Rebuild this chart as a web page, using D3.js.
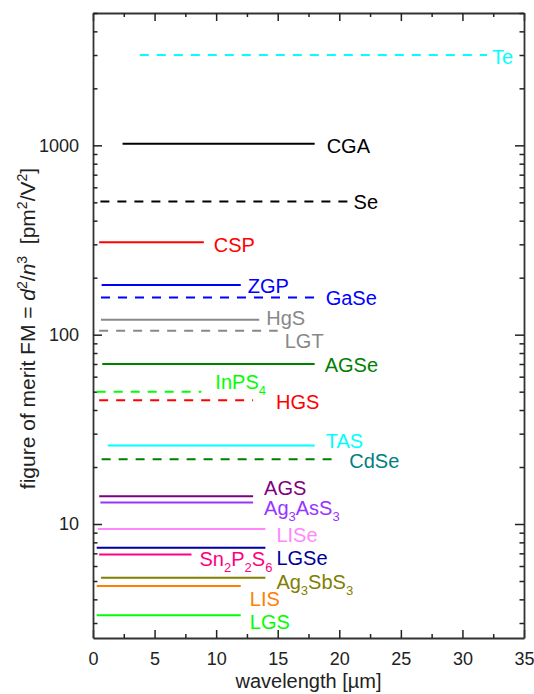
<!DOCTYPE html>
<html>
<head>
<meta charset="utf-8">
<script src="https://cdn.jsdelivr.net/npm/d3@7"></script>
<style>
body { margin: 0; background: #fff; }
text { font-family: Arial, "Liberation Sans", sans-serif; }
</style>
</head>
<body>
<svg id="chart" width="534" height="694"></svg>
<script>
/* Figure of merit of NLO crystals vs transparency range */
const materials = ['Te', 'CGA', 'Se', 'CSP', 'ZGP', 'GaSe', 'HgS', 'LGT', 'AGSe', 'InPS4', 'HGS',
    'TAS', 'CdSe', 'AGS', 'Ag3AsS3', 'LISe', 'LGSe', 'Sn2P2S6', 'Ag3SbS3', 'LIS', 'LGS']
const fmValues = [3000, 1020, 505, 308, 183, 157, 120, 105, 70, 50, 45,
    26, 22, 14, 13, 9.4, 7.5, 6.9, 5.2, 4.7, 3.3]
const lambdaStart = [3.8, 2.4, 0.6, 0.5, 0.7, 0.65, 0.65, 0.5, 0.75, 0.3, 0.5,
    1.2, 0.7, 0.5, 0.6, 0.4, 0.3, 0.5, 0.65, 0.3, 0.3]
const lambdaEnd = [32, 18, 21, 9, 12, 18, 13.5, 15, 18, 8.8, 13,
    18, 20, 13, 13, 14, 14, 8, 14, 12, 12]
const xTicks = d3.range(0, 35.01, 2.5)
const xTickLabels = [0, 5, 10, 15, 20, 25, 30, 35]
const yTickLabels = [10, 100, 1000]

// styling per material
const lineColors = ['#00ffff', '#000000', '#000000', '#ff0000', '#0000ff', '#0000ff', '#888888', '#888888',
    '#008000', '#00ff00', '#ff0000', '#00ffff', '#008000', '#800080', '#9933ff', '#ff88ff', '#000099',
    '#ff0080', '#808000', '#ff8000', '#00ff00']
const labelColors = lineColors.map((c, i) => materials[i] === 'CdSe' ? '#008080' : c)
const dashed = ['Te', 'Se', 'GaSe', 'LGT', 'InPS4', 'HGS', 'CdSe']
const labelDx = [5, 12, 2, 10, 7, 11, 7, 7, 10, 14, 23, 11, 10, 11, 11, 11, 11, 8, 11, 9, 9]
const labelDy = [2, 2, 0, 3, 1, 0, -2, 10, 1, -10, 2, -4, 2, -8, 6, 6, 10, 4, 4, 13, 7]

const margin = { top: 13, right: 10, bottom: 56, left: 93 }
const width = 534 - margin.left - margin.right
const height = 694 - margin.top - margin.bottom

const x = d3.scaleLinear()
    .domain([0, 35])
    .range([0, width])

const y = d3.scaleLog()
    .domain([2.5, 5000])
    .range([height, 0])

const yTicks = [1, 10, 100, 1000]
    .flatMap(dec => d3.range(1, 10).map(k => k * dec))
    .filter(v => v >= 2.5 && v <= 5000)

const isMajorX = d => xTickLabels.includes(d)
const isMajorY = d => yTickLabels.includes(d)

const svg = d3.select('#chart')
    .append('g')
    .attr('transform', `translate(${margin.left},${margin.top})`)

// axes, ticks pointing inward on all four sides
const styleAxis = (g) => {
    g.select('.domain').attr('stroke', '#333').attr('stroke-width', 1.8)
    g.selectAll('.tick line').attr('stroke', '#222').attr('stroke-width', 1.5)
    g.selectAll('.tick text').attr('fill', '#222').style('font-size', '18px')
    g.selectAll('.tick text').filter(function () { return this.textContent === '' }).remove()
}

svg.append('g')
    .attr('transform', `translate(0,${height})`)
    .call(d3.axisBottom(x).tickValues(xTicks).tickSizeOuter(0).tickPadding(8)
        .tickFormat(d => isMajorX(d) ? d : ''))
    .call(g => g.selectAll('.tick line').attr('y2', d => isMajorX(d) ? -8 : -4))
    .call(styleAxis)

svg.append('g')
    .call(d3.axisTop(x).tickValues(xTicks).tickSizeOuter(0).tickFormat(''))
    .call(g => g.selectAll('.tick line').attr('y2', d => isMajorX(d) ? 8 : 4))
    .call(styleAxis)

svg.append('g')
    .call(d3.axisLeft(y).tickValues(yTicks).tickSizeOuter(0).tickPadding(8)
        .tickFormat(d => isMajorY(d) ? d : ''))
    .call(g => g.selectAll('.tick line').attr('x2', d => isMajorY(d) ? 9 : 4.5))
    .call(styleAxis)

svg.append('g')
    .attr('transform', `translate(${width},0)`)
    .call(d3.axisRight(y).tickValues(yTicks).tickSizeOuter(0).tickFormat(''))
    .call(g => g.selectAll('.tick line').attr('x2', d => isMajorY(d) ? -9 : -4.5))
    .call(styleAxis)

const rows = materials.map((m, i) => ({
    name: m, fm: fmValues[i], start: lambdaStart[i], end: lambdaEnd[i],
    color: lineColors[i], labelColor: labelColors[i], dx: labelDx[i], dy: labelDy[i]
}))

svg.selectAll('.seg')
    .data(rows)
    .join('line')
    .attr('class', 'seg')
    .attr('x1', d => x(d.start))
    .attr('x2', d => x(d.end))
    .attr('y1', d => y(d.fm))
    .attr('y2', d => y(d.fm))
    .attr('stroke', d => d.color)
    .attr('stroke-width', 2)
    .attr('stroke-dasharray', d => dashed.includes(d.name) ? '9,8' : null)

// labels, digits become subscripts
const labels = svg.selectAll('.lbl')
    .data(rows)
    .join('text')
    .attr('class', 'lbl')
    .attr('x', d => x(d.end) + d.dx)
    .attr('y', d => y(d.fm) + d.dy + 7)
    .attr('fill', d => d.labelColor)
    .style('font-size', '20px')

labels.each(function (d) {
    const t = d3.select(this)
    let shift = 0
    d.name.split(/(\d+)/).filter(s => s !== '').forEach(part => {
        const sub = /^\d+$/.test(part)
        const target = sub ? 6 : 0
        t.append('tspan')
            .attr('dy', target - shift)
            .style('font-size', sub ? '13px' : null)
            .text(part)
        shift = target
    })
})

// axis titles
svg.append('text')
    .attr('x', width / 2)
    .attr('y', height + 50)
    .attr('text-anchor', 'middle')
    .attr('fill', '#222')
    .style('font-size', '20px')
    .text('wavelength [µm]')

const yTitle = svg.append('text')
    .attr('transform', `translate(${35 - margin.left},${height / 2 + 3}) rotate(-90)`)
    .attr('text-anchor', 'middle')
    .attr('fill', '#222')
    .style('font-size', '21px')
    .attr('xml:space', 'preserve')

const titleParts = [
    ['figure of merit FM = ', 0, false], ['d', 0, true], ['2', -8, false], ['/', 8, false],
    ['n', 0, true], ['3', -8, false], ['  [pm', 8, false], ['2', -8, false], ['/V', 8, false],
    ['2', -8, false], [']', 8, false]
]
titleParts.forEach(([s, dy, it]) => {
    const sup = dy < 0
    yTitle.append('tspan')
        .attr('dy', dy)
        .style('font-size', sup ? '14px' : null)
        .style('font-style', it ? 'italic' : null)
        .text(s)
})
</script>
</body>
</html>
